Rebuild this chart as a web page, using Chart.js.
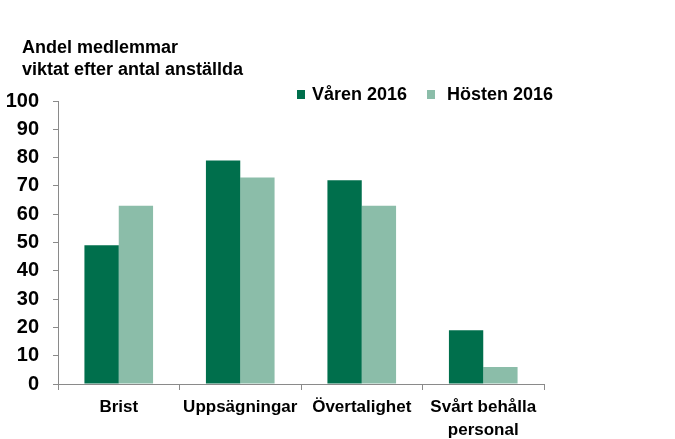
<!DOCTYPE html>
<html>
<head>
<meta charset="utf-8">
<script src="https://cdn.jsdelivr.net/npm/chart.js@4"></script>
<style>
    html, body { margin: 0; padding: 0; background: #fff; }
    #wrap { width: 675px; height: 439px; }
</style>
</head>
<body>
<div id="wrap"><canvas id="chart" width="675" height="439"></canvas></div>
<script>
const categories = ['Brist', 'Uppsägningar', 'Övertalighet', ['Svårt behålla', 'personal']];
const varen2016 = [49, 79, 72, 19];
const hosten2016 = [63, 73, 63, 6];
const yTicks = [0, 10, 20, 30, 40, 50, 60, 70, 80, 90, 100];
const titleLines = ['Andel medlemmar', 'viktat efter antal anställda'];

const darkGreen = '#006F4C';
const lightGreen = '#8BBDA9';
const axisGrey = '#8a8a8a';

// Title and legend drawn at fixed spots, like the original slide
const headerPlugin = {
    id: 'header',
    afterDraw(chart) {
        const ctx = chart.ctx;
        ctx.save();
        ctx.fillStyle = '#000';
        ctx.textBaseline = 'middle';
        ctx.textAlign = 'left';
        ctx.font = 'bold 18px "Liberation Sans", Arial, sans-serif';
        ctx.fillText(titleLines[0], 22, 48);
        ctx.fillText(titleLines[1], 22, 70);

        const items = [
            { label: chart.data.datasets[0].label, color: darkGreen, box: 297, text: 312 },
            { label: chart.data.datasets[1].label, color: lightGreen, box: 427, text: 447 }
        ];
        ctx.font = 'bold 18px "Liberation Sans", Arial, sans-serif';
        items.forEach(it => {
            ctx.fillStyle = it.color;
            ctx.fillRect(it.box, 90, 8, 9);
            ctx.fillStyle = '#000';
            ctx.fillText(it.label, it.text, 95);
        });
        ctx.restore();
    }
};

new Chart(document.getElementById('chart').getContext('2d'), {
    type: 'bar',
    data: {
        labels: categories,
        datasets: [
            { label: 'Våren 2016', data: varen2016, backgroundColor: darkGreen },
            { label: 'Hösten 2016', data: hosten2016, backgroundColor: lightGreen }
        ]
    },
    options: {
        responsive: false,
        animation: false,
        categoryPercentage: 0.565,
        barPercentage: 1,
        layout: { padding: { top: 101, right: 131, left: 0, bottom: 0 } },
        scales: {
            y: {
                min: 0,
                max: 100,
                afterBuildTicks(axis) {
                    axis.ticks = yTicks.map(v => ({ value: v }));
                },
                afterFit(axis) { axis.width = 58; },
                border: { color: axisGrey, width: 1 },
                grid: { drawOnChartArea: false, tickLength: 5, color: axisGrey },
                ticks: {
                    padding: 14,
                    color: '#000',
                    font: { family: '"Liberation Sans", Arial, sans-serif', size: 20, weight: 'bold' }
                }
            },
            x: {
                afterFit(axis) { axis.height = 55; },
                border: { color: axisGrey, width: 1 },
                grid: { drawOnChartArea: false, offset: true, tickLength: 6, color: axisGrey },
                ticks: {
                    padding: 6,
                    color: '#000',
                    maxRotation: 0,
                    font: { family: '"Liberation Sans", Arial, sans-serif', size: 17, weight: 'bold', lineHeight: 1.35 }
                }
            }
        },
        plugins: {
            legend: { display: false },
            tooltip: { enabled: false }
        }
    },
    plugins: [headerPlugin]
});
</script>
</body>
</html>
